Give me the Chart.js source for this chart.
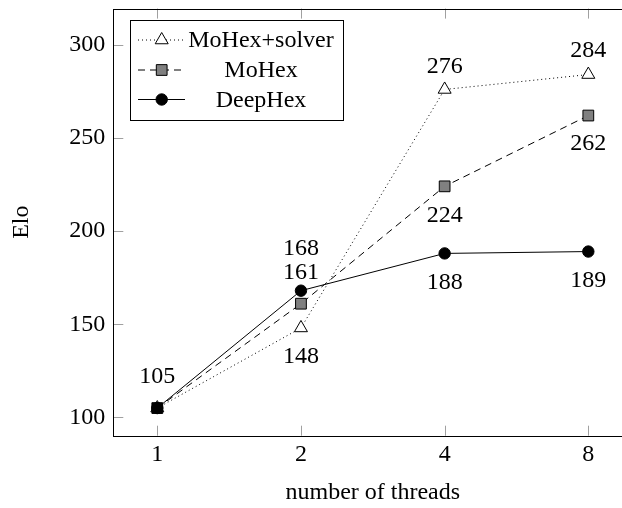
<!DOCTYPE html>
<html><head><meta charset="utf-8">
<script src="https://cdn.jsdelivr.net/npm/chart.js@4/dist/chart.umd.min.js"></script>
<style>
html,body{margin:0;padding:0;background:#fff;overflow:hidden;width:622px;height:508px}
#wrap{width:650px;height:508px;position:relative}
canvas{display:block}
</style></head>
<body><div id="wrap"><canvas id="c" width="650" height="508"></canvas></div>
<script>
const threads = [1, 2, 4, 8];
const yTickValues = [100, 150, 200, 250, 300];
const seriesNames = ['MoHex+solver', 'MoHex', 'DeepHex'];
const moHexSolver = [105, 148, 276, 284];
const moHex = [105, 161, 224, 262];
const deepHex = [105, 168, 188, 189];
const xTitle = 'number of threads';
const yTitle = 'Elo';

const FONT = "'Liberation Serif', 'Times New Roman', serif";
const toPts = arr => arr.map((v, i) => ({x: threads[i], y: v}));

// label vertical offsets (px, negative = above), null = no label
const labelOffsets = [
  [null, 29, -23, -24],
  [null, -31.5, 29.5, 28],
  [-31, -42, 29, 29]
];

const frameAndTicks = {
  id: 'frameAndTicks',
  beforeDatasetsDraw(chart) {
    const {ctx, chartArea: a, scales: {x, y}} = chart;
    ctx.save();
    ctx.strokeStyle = '#a0a0a0';
    ctx.lineWidth = 1;
    ctx.beginPath();
    const L = 10;
    x.ticks.forEach(t => {
      const px = Math.round(x.getPixelForValue(t.value)) + 0.5;
      ctx.moveTo(px, a.bottom); ctx.lineTo(px, a.bottom - L);
      ctx.moveTo(px, a.top); ctx.lineTo(px, a.top + L);
    });
    y.ticks.forEach(t => {
      const py = Math.round(y.getPixelForValue(t.value)) + 0.5;
      ctx.moveTo(a.left, py); ctx.lineTo(a.left + L, py);
      ctx.moveTo(a.right, py); ctx.lineTo(a.right - L, py);
    });
    ctx.stroke();
    ctx.strokeStyle = '#000';
    ctx.strokeRect(Math.round(a.left) + 0.5, Math.round(a.top) + 0.5,
      Math.round(a.right - a.left), Math.round(a.bottom - a.top));
    ctx.restore();
  }
};

const valueLabels = {
  id: 'valueLabels',
  afterDatasetsDraw(chart) {
    const {ctx} = chart;
    ctx.save();
    ctx.font = '24px ' + FONT;
    ctx.fillStyle = '#000';
    ctx.textAlign = 'center';
    ctx.textBaseline = 'middle';
    chart.data.datasets.forEach((ds, di) => {
      const meta = chart.getDatasetMeta(di);
      meta.data.forEach((pt, i) => {
        const off = labelOffsets[di][i];
        if (off === null) return;
        ctx.fillText(String(ds.data[i].y), pt.x, pt.y + off);
      });
    });
    ctx.restore();
  }
};

const boxLegend = {
  id: 'boxLegend',
  afterDraw(chart) {
    const {ctx} = chart;
    const bx = 130.5, by = 20.5, bw = 213, bh = 100;
    ctx.save();
    ctx.fillStyle = '#fff';
    ctx.fillRect(bx, by, bw, bh);
    ctx.strokeStyle = '#000';
    ctx.lineWidth = 1;
    ctx.strokeRect(bx, by, bw, bh);
    const rows = [40, 70, 99.5];
    chart.data.datasets.forEach((ds, di) => {
      const yy = rows[di];
      ctx.save();
      ctx.strokeStyle = ds.borderColor;
      ctx.lineWidth = ds.borderWidth;
      ctx.setLineDash(ds.borderDash || []);
      ctx.beginPath();
      ctx.moveTo(138, yy); ctx.lineTo(185, yy);
      ctx.stroke();
      ctx.setLineDash([]);
      ctx.fillStyle = Array.isArray(ds.pointBackgroundColor) ? ds.pointBackgroundColor[1] : ds.pointBackgroundColor;
      ctx.strokeStyle = ds.pointBorderColor;
      Chart.helpers.drawPoint(ctx, {pointStyle: ds.pointStyle, radius: ds.pointRadius, rotation: 0, borderWidth: ds.pointBorderWidth}, 161.7, yy);
      ctx.restore();
      ctx.font = '24px ' + FONT;
      ctx.fillStyle = '#000';
      ctx.textAlign = 'center';
      ctx.textBaseline = 'middle';
      ctx.fillText(ds.label, 261, yy + 1);
    });
    ctx.restore();
  }
};

new Chart(document.getElementById('c'), {
  type: 'line',
  data: {
    datasets: [
      {label: seriesNames[0], data: toPts(moHexSolver), borderColor: '#000', borderWidth: 1, borderDash: [1, 3],
       pointStyle: 'triangle', pointRadius: 7.5, pointBackgroundColor: '#fff', pointBorderColor: '#000', pointBorderWidth: 1, order: 2},
      {label: seriesNames[1], data: toPts(moHex), borderColor: '#000', borderWidth: 1, borderDash: [7, 5],
       pointStyle: 'rect', pointRadius: 7.6, pointBackgroundColor: ['#000', '#808080', '#808080', '#808080'], pointBorderColor: '#000', pointBorderWidth: 1, order: 1},
      {label: seriesNames[2], data: toPts(deepHex), borderColor: '#000', borderWidth: 1,
       pointStyle: 'circle', pointRadius: 5.7, pointBackgroundColor: '#000', pointBorderColor: '#000', pointBorderWidth: 1, order: 0}
    ]
  },
  options: {
    responsive: false,
    animation: false,
    devicePixelRatio: 1,
    layout: {padding: {left: 0, right: 17.7, top: 7, bottom: 0}},
    plugins: {legend: {display: false}, tooltip: {enabled: false}},
    elements: {line: {tension: 0, fill: false}},
    scales: {
      x: {
        type: 'logarithmic',
        min: 0.8088, max: 9.891,
        grid: {display: false, drawTicks: false},
        border: {display: false},
        afterBuildTicks: s => { s.ticks = threads.map(v => ({value: v})); },
        afterFit: s => { s.height = 72.3; s.paddingLeft = 0; s.paddingRight = 0; },
        ticks: {autoSkip: false, maxRotation: 0, padding: 5, color: '#000', font: {family: FONT, size: 24},
                callback: v => String(v)},
        title: {display: true, text: xTitle, color: '#000', font: {family: FONT, size: 24}, padding: {top: 0, bottom: 1}}
      },
      y: {
        type: 'linear',
        min: 90.16, max: 319.4,
        grid: {display: false, drawTicks: false},
        border: {display: false},
        afterBuildTicks: s => { s.ticks = yTickValues.map(v => ({value: v})); },
        afterFit: s => { s.width = 113.3; s.paddingTop = 0; s.paddingBottom = 0; },
        ticks: {padding: 8, color: '#000', font: {family: FONT, size: 24}, callback: v => String(v)},
        title: {display: true, text: yTitle, color: '#000', font: {family: FONT, size: 24}, padding: {top: 7, bottom: 0}}
      }
    }
  },
  plugins: [frameAndTicks, valueLabels, boxLegend]
});
</script>
</body></html>
